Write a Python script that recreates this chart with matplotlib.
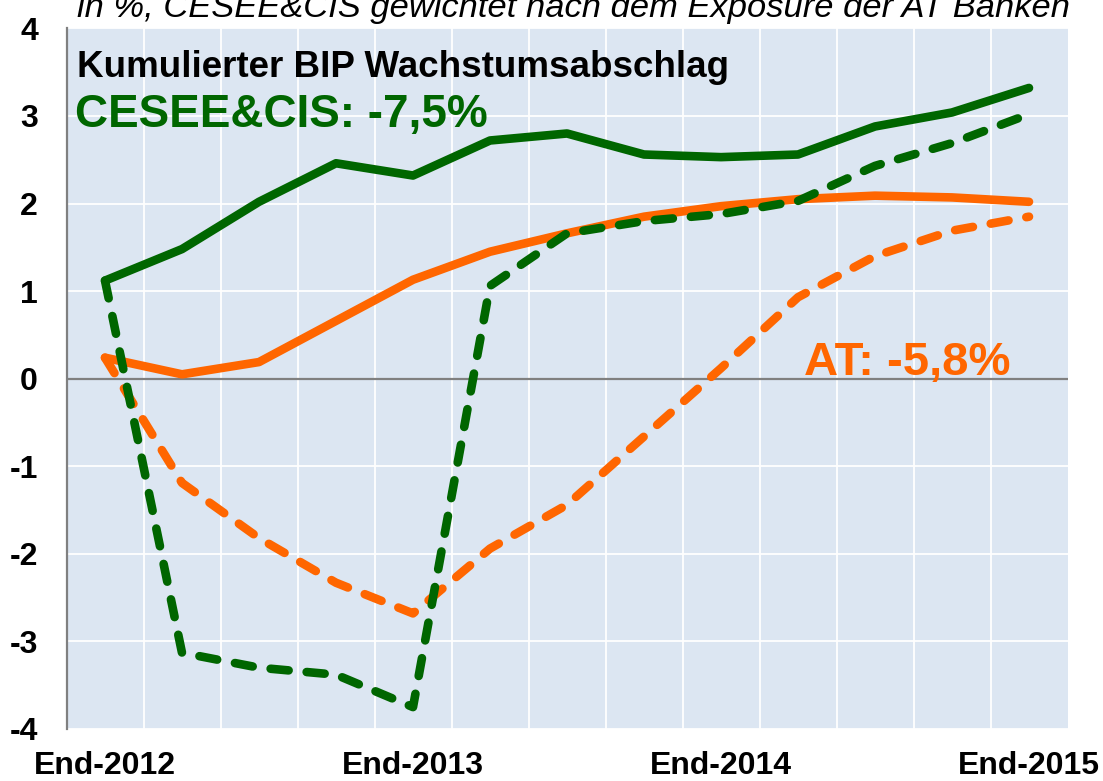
import matplotlib
matplotlib.use("Agg")
import matplotlib.pyplot as plt
from matplotlib.ticker import FixedLocator, MultipleLocator
import numpy as np

# ---- data ----
quarters = ["Q4-2012", "Q1-2013", "Q2-2013", "Q3-2013", "Q4-2013",
            "Q1-2014", "Q2-2014", "Q3-2014", "Q4-2014",
            "Q1-2015", "Q2-2015", "Q3-2015", "Q4-2015"]
tick_positions = [0, 4, 8, 12]
tick_labels = ["End-2012", "End-2013", "End-2014", "End-2015"]

cesee_base = [1.12, 1.48, 2.02, 2.46, 2.32, 2.72, 2.80, 2.56, 2.53, 2.56, 2.88, 3.04, 3.32]
cesee_stress = [1.12, -3.13, -3.30, -3.38, -3.75, 1.06, 1.66, 1.80, 1.88, 2.03, 2.43, 2.69, 3.02]
at_base = [0.24, 0.05, 0.19, 0.66, 1.13, 1.45, 1.66, 1.85, 1.97, 2.05, 2.09, 2.07, 2.02]
at_stress = [0.24, -1.19, -1.82, -2.33, -2.68, -1.94, -1.44, -0.66, 0.12, 0.93, 1.40, 1.69, 1.85]

title_text = "in %, CESEE&CIS gewichtet nach dem Exposure der AT Banken"
header_text = "Kumulierter BIP Wachstumsabschlag"
cesee_label = "CESEE&CIS: -7,5%"
at_label = "AT: -5,8%"

GREEN = "#006600"
ORANGE = "#FF6600"
BG = "#DCE6F2"

plt.rcParams['font.family'] = ['Liberation Sans', 'DejaVu Sans']

fig = plt.figure(figsize=(11.03, 7.81), dpi=100)
ax = fig.add_axes([66.5 / 1103, 1 - 729 / 781, 1001 / 1103, (729 - 28.4) / 781])
ax.set_facecolor(BG)

x = np.arange(len(quarters))
lw = 6.2
dash = (2.1, 2.1)

ax.plot(x, at_stress, color=ORANGE, lw=lw, dashes=dash, dash_capstyle='round',
        dash_joinstyle='round', zorder=3)
ax.plot(x, at_base, color=ORANGE, lw=lw, solid_capstyle='round',
        solid_joinstyle='round', zorder=4)
ax.plot(x, cesee_base, color=GREEN, lw=lw, solid_capstyle='round',
        solid_joinstyle='round', zorder=5)
ax.plot(x, cesee_stress, color=GREEN, lw=lw, dashes=dash, dash_capstyle='round',
        dash_joinstyle='round', zorder=6)

ax.set_xlim(-0.5, len(quarters) - 0.5)
ax.set_ylim(-4, 4)

ax.xaxis.set_major_locator(FixedLocator(tick_positions))
ax.set_xticklabels(tick_labels, fontsize=23, fontweight='bold')
ax.xaxis.set_minor_locator(FixedLocator(np.arange(0.5, len(quarters) - 0.5, 1)))
ax.yaxis.set_major_locator(MultipleLocator(1))
ax.set_yticklabels([f"{int(v)}" for v in ax.get_yticks()])
for lab in ax.get_yticklabels():
    lab.set_fontsize(23)
    lab.set_fontweight('bold')

ax.tick_params(axis='x', which='both', length=0, pad=16)
ax.tick_params(axis='y', which='both', length=0, pad=20.5)

ax.grid(True, axis='y', which='major', color='white', lw=1.3, zorder=1)
ax.grid(True, axis='x', which='minor', color='white', lw=1.3, zorder=1)
ax.set_axisbelow(True)

ax.axhline(0, color='#808080', lw=1.6, zorder=2)
for s in ['top', 'right', 'bottom']:
    ax.spines[s].set_visible(False)
ax.spines['left'].set_color('#808080')
ax.spines['left'].set_linewidth(1.6)

ax.text(-0.364, 3.444, header_text, fontsize=26.5, fontweight='bold', color='black',
        va='baseline', ha='left', zorder=7)
ax.text(-0.39, 2.873, cesee_label, fontsize=33, fontweight='bold', color=GREEN,
        va='baseline', ha='left', zorder=7)
ax.text(9.08, 0.04, at_label, fontsize=34, fontweight='bold', color=ORANGE,
        va='baseline', ha='left', zorder=7)

fig.text(77 / 1103, 1 - 17 / 781, title_text, fontsize=24.8, fontstyle='italic',
         color='black', va='baseline', ha='left')

fig.savefig("out.png", dpi=100)
